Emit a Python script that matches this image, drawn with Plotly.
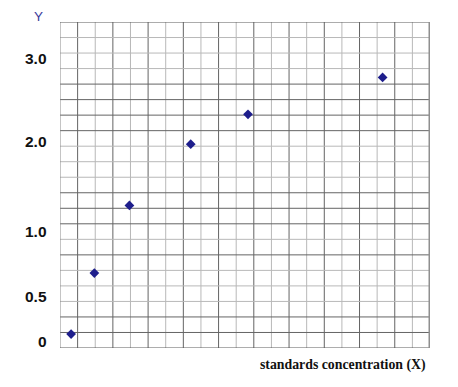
import plotly.graph_objects as go

# Data in grid units (21 x 21 grid cells)
x_vals = [0.63, 1.95, 3.94, 7.42, 10.67, 18.31]
y_vals = [0.90, 4.83, 9.18, 13.13, 15.05, 17.43]

# Y tick labels and their positions (grid units)
ytick_text = ["3.0", "2.0", "1.0", "0.5", "0"]
ytick_pos = [18.68, 13.28, 7.48, 3.29, 0.39]

N_COLS = 21
N_ROWS = 21
# darkness of horizontal lines, from top (index 0) to bottom (index 21)
h_dark = [1, 0, 0, 0, 1, 1, 1, 1, 0, 0, 0, 1, 1, 1, 0, 1, 0, 0, 0, 1, 1, 1]

fig = go.Figure()
fig.add_trace(go.Scatter(
    x=x_vals, y=y_vals, mode="markers",
    marker=dict(symbol="diamond", size=7.5, color="#1e1e8c", line=dict(width=0)),
    hoverinfo="skip", showlegend=False,
))

shapes = []
DARK = "#646464"
LIGHT = "#b8b8b8"
for k in range(1, N_COLS):
    shapes.append(dict(type="line", xref="x", yref="y", x0=k, x1=k, y0=0, y1=N_ROWS,
                       line=dict(color=DARK if k % 2 == 1 else LIGHT, width=1), layer="below"))
for i in range(1, N_ROWS):
    yv = N_ROWS - i
    shapes.append(dict(type="line", xref="x", yref="y", x0=0, x1=N_COLS, y0=yv, y1=yv,
                       line=dict(color=DARK if h_dark[i] else LIGHT, width=1), layer="below"))
# borders
shapes.append(dict(type="line", xref="x", yref="y", x0=0, x1=0, y0=0, y1=N_ROWS,
                   line=dict(color="#8a8a8a", width=1), layer="below"))
shapes.append(dict(type="line", xref="x", yref="y", x0=0, x1=N_COLS, y0=N_ROWS, y1=N_ROWS,
                   line=dict(color="#5a5a5a", width=1), layer="below"))
shapes.append(dict(type="line", xref="x", yref="y", x0=0, x1=N_COLS, y0=0, y1=0,
                   line=dict(color="#5a5a5a", width=1), layer="below"))
shapes.append(dict(type="line", xref="x", yref="y", x0=N_COLS, x1=N_COLS, y0=0, y1=N_ROWS,
                   line=dict(color="#8f8f8f", width=3), layer="below"))

annotations = []
for t, p in zip(ytick_text, ytick_pos):
    annotations.append(dict(text="<b>" + t + "</b>", xref="paper", x=0, xanchor="right",
                            xshift=-11, yref="y", y=p, yanchor="middle", showarrow=False,
                            font=dict(family="Liberation Sans, Arial", size=15.5,
                                      color="#111111")))
annotations.append(dict(text="Y", xref="paper", x=0, xanchor="center", xshift=-22,
                        yref="paper", y=1, yanchor="middle", yshift=6, showarrow=False,
                        font=dict(family="Liberation Sans, Arial", size=13.5, color="#3a3a9a")))
annotations.append(dict(text="<b>standards concentration (X)</b>", xref="paper", x=1,
                        xanchor="right", xshift=-2, yref="paper", y=0, yanchor="middle",
                        yshift=-17, showarrow=False,
                        font=dict(family="Liberation Serif, Times New Roman", size=13.8,
                                  color="#111111")))

fig.update_layout(
    width=458, height=387, autosize=False,
    margin=dict(l=60, r=28, t=22, b=39, pad=0),
    paper_bgcolor="white", plot_bgcolor="white",
    xaxis=dict(range=[0, N_COLS], showgrid=False, zeroline=False, showticklabels=False,
               showline=False, ticks="", fixedrange=True),
    yaxis=dict(range=[0, N_ROWS], showgrid=False, zeroline=False, showticklabels=False,
               showline=False, ticks="", fixedrange=True),
    shapes=shapes, annotations=annotations,
)

fig.write_html("out.html")
